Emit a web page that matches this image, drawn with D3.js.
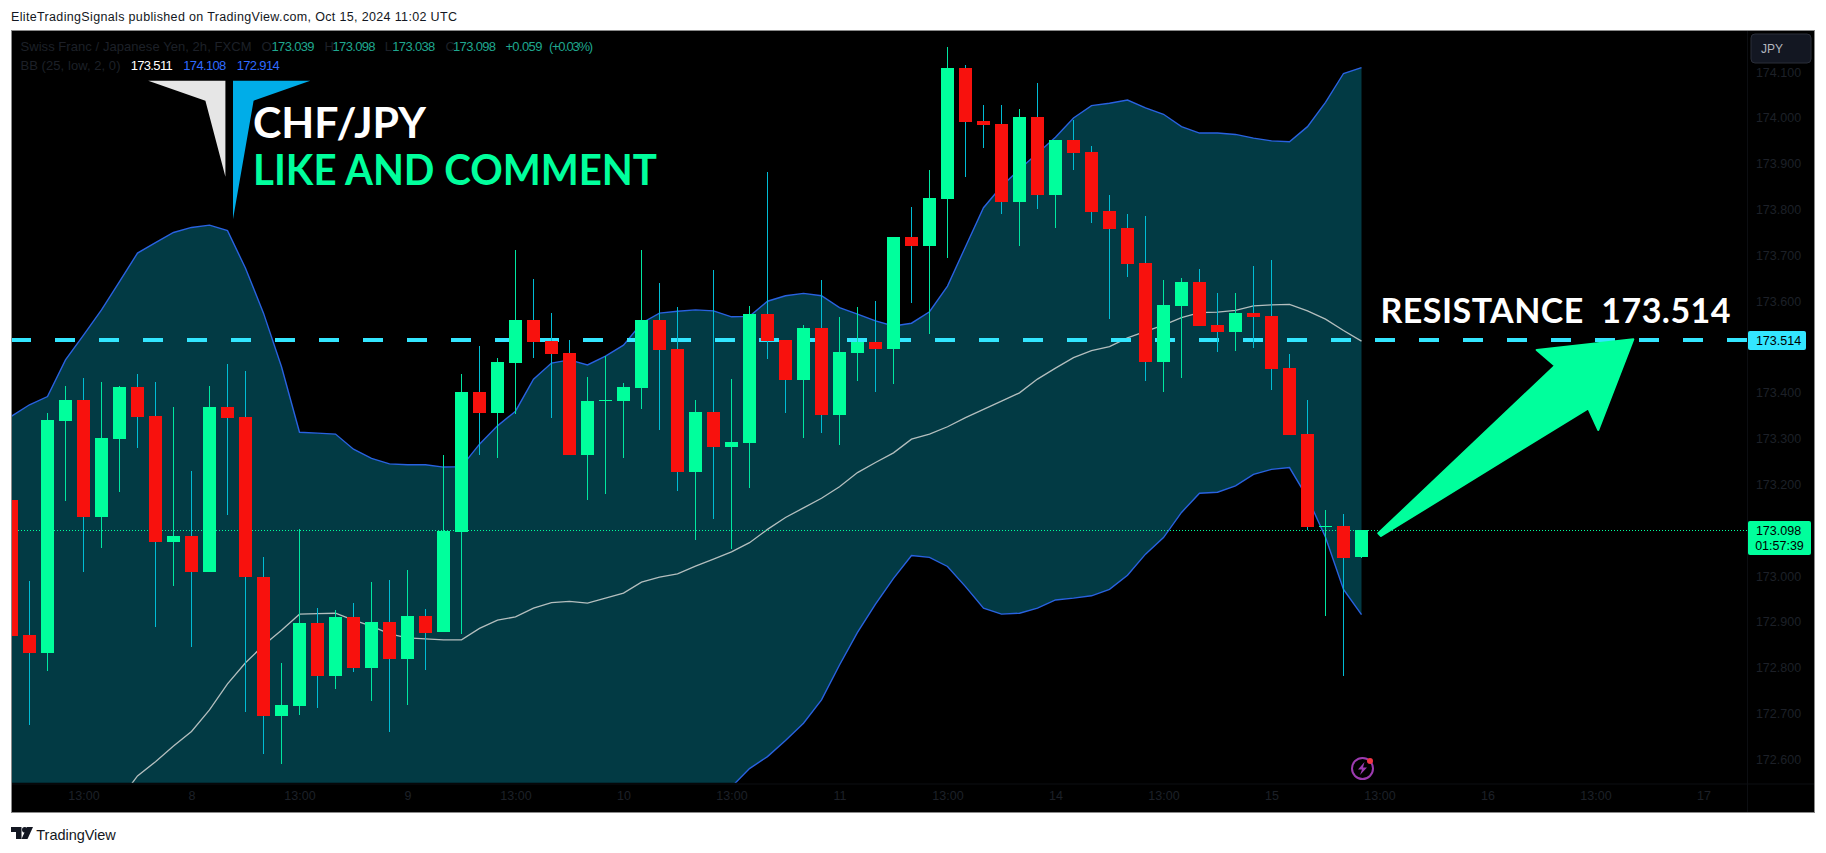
<!DOCTYPE html>
<html>
<head>
<meta charset="utf-8">
<title>CHF/JPY</title>
<script src="https://cdnjs.cloudflare.com/ajax/libs/d3/7.8.5/d3.min.js"></script>
<style>
html,body{margin:0;padding:0;background:#fff;overflow:hidden}
svg{display:block}
text{font-family:"Liberation Sans",Arial,sans-serif}
</style>
</head>
<body>
<svg id="chart" width="1826" height="853"></svg>
<script>
// ---- data ----
const opens = [173.164,172.870,172.831,173.337,173.382,173.128,173.297,173.411,173.347,173.073,173.086,173.006,173.367,173.345,172.996,172.693,172.715,172.896,172.779,172.909,172.798,172.898,172.818,172.911,172.875,173.094,173.400,173.354,173.463,173.557,173.511,173.485,173.262,173.380,173.380,173.409,173.557,173.494,173.225,173.356,173.280,173.289,173.570,173.513,173.426,173.540,173.350,173.485,173.509,173.494,173.738,173.718,173.821,174.107,173.991,173.985,173.815,174.000,173.830,173.950,173.924,173.795,173.758,173.681,173.465,173.588,173.640,173.546,173.531,173.572,173.566,173.452,173.308,173.105,173.107,173.039];
const highs = [173.226,172.987,173.353,173.413,173.430,173.422,173.413,173.439,173.422,173.367,173.227,173.413,173.461,173.446,173.040,172.808,173.101,172.928,172.924,172.939,172.985,172.990,173.011,172.926,173.262,173.439,173.500,173.474,173.710,173.646,173.572,173.513,173.433,173.478,173.420,173.710,173.638,173.585,173.382,173.666,173.428,173.588,173.880,173.513,173.546,173.644,173.564,173.585,173.599,173.738,173.804,173.884,174.153,174.114,174.026,174.026,174.017,174.074,173.950,173.993,173.937,173.830,173.788,173.784,173.644,173.649,173.668,173.616,173.616,173.675,173.688,173.483,173.382,173.142,173.134,173.098];
const lows = [172.835,172.672,172.792,173.163,173.008,173.060,173.182,173.278,172.888,172.977,172.844,173.006,173.132,172.702,172.610,172.589,172.695,172.711,172.752,172.789,172.725,172.658,172.717,172.793,172.875,172.872,173.262,173.256,173.352,173.473,173.344,173.262,173.165,173.177,173.256,173.363,173.317,173.184,173.077,173.123,173.057,173.190,173.472,173.354,173.299,173.310,173.284,173.424,173.400,173.417,173.594,173.526,173.692,173.869,173.932,173.788,173.718,173.799,173.758,173.884,173.769,173.559,173.651,173.424,173.400,173.430,173.544,173.487,173.489,173.496,173.404,173.306,173.099,172.912,172.781,173.038];
const closes = [172.868,172.831,173.339,173.382,173.128,173.300,173.411,173.346,173.073,173.086,173.006,173.367,173.344,172.995,172.693,172.717,172.896,172.779,172.909,172.798,172.898,172.818,172.911,172.874,173.097,173.400,173.354,173.465,173.557,173.510,173.483,173.262,173.380,173.383,173.411,173.557,173.492,173.225,173.356,173.280,173.291,173.570,173.511,173.426,173.540,173.350,173.487,173.509,173.494,173.738,173.718,173.823,174.107,173.989,173.983,173.815,174.000,173.830,173.950,173.921,173.793,173.756,173.679,173.465,173.590,173.640,173.544,173.531,173.572,173.564,173.450,173.306,173.105,173.108,173.038,173.098];
const bbUpper = [173.347,173.372,173.390,173.470,173.524,173.579,173.641,173.703,173.726,173.748,173.759,173.764,173.752,173.670,173.572,173.455,173.312,173.310,173.308,173.275,173.255,173.243,173.241,173.241,173.236,173.237,173.286,173.326,173.358,173.428,173.463,173.470,173.459,173.478,173.502,173.550,173.572,173.576,173.579,173.577,173.564,173.565,173.598,173.610,173.615,173.610,173.584,173.570,173.555,173.544,173.550,173.575,173.631,173.717,173.802,173.849,173.886,173.921,173.956,173.998,174.025,174.030,174.037,174.020,174.006,173.979,173.965,173.965,173.962,173.954,173.948,173.946,173.979,174.032,174.095,174.108];
const bbBasis = [172.291,172.335,172.378,172.422,172.440,172.470,172.509,172.562,172.593,172.627,172.659,172.706,172.763,172.809,172.847,172.880,172.915,172.916,172.917,172.902,172.889,172.872,172.863,172.861,172.859,172.859,172.884,172.902,172.909,172.928,172.940,172.943,172.939,172.950,172.961,172.985,172.996,173.003,173.020,173.035,173.051,173.071,173.100,173.126,173.147,173.168,173.193,173.224,173.246,173.267,173.297,173.308,173.324,173.344,173.362,173.380,173.398,173.428,173.452,173.475,173.490,173.499,173.518,173.532,173.546,173.562,173.573,173.574,173.578,173.588,173.590,173.591,173.577,173.559,173.534,173.511];
const bbLower = [171.235,171.298,171.368,171.375,171.407,171.418,171.418,171.420,171.459,171.507,171.560,171.647,171.774,171.946,172.123,172.306,172.518,172.523,172.525,172.529,172.523,172.501,172.486,172.483,172.483,172.483,172.483,172.479,172.461,172.429,172.418,172.415,172.418,172.420,172.418,172.420,172.420,172.429,172.461,172.492,172.538,172.578,172.604,172.639,172.677,172.728,172.804,172.875,172.937,172.993,173.043,173.039,173.019,172.975,172.928,172.915,172.917,172.928,172.946,172.950,172.955,172.969,173.000,173.046,173.082,173.137,173.179,173.181,173.195,173.220,173.231,173.235,173.169,173.083,172.969,172.914];
const priceTicks = [174.1,174.0,173.9,173.8,173.7,173.6,173.4,173.3,173.2,173.0,172.9,172.8,172.7,172.6];
const timeTickBars = [4,10,16,22,28,34,40,46,52,58,64,70,76,82,88,94];
const timeTickLabels = ["13:00","8","13:00","9","13:00","10","13:00","11","13:00","14","13:00","15","13:00","16","13:00","17"];
const resistance = 173.514;
const lastPrice = 173.098;

// ---- scales ----
const x = d3.scaleLinear().domain([0,75]).range([11.5,1361.5]);
const y = d3.scaleLinear().domain([resistance,lastPrice]).range([339.7,530.3]);
const bars = d3.range(opens.length);

const COL = {up:"#00ff9c",down:"#f8110d",wickUp:"#00e6a0",wickDown:"#00bcd4",band:"#023a44",bandLine:"#2962e0",basis:"#b4bebe",res:"#33e6ff",dim:"#1d2028"};
const svg = d3.select("#chart");
svg.append("rect").attr("width",1826).attr("height",853).attr("fill","#fff");

// frame
svg.append("rect").attr("x",11.5).attr("y",30.5).attr("width",1803).attr("height",782)
  .attr("fill","#000").attr("stroke","#8a8a8a").attr("stroke-width",1);

const defs = svg.append("defs");
defs.append("clipPath").attr("id","pane").append("rect").attr("x",12).attr("y",31).attr("width",1735).attr("height",751.7);
const pane = svg.append("g").attr("clip-path","url(#pane)");

// separators
svg.append("line").attr("x1",1747.5).attr("x2",1747.5).attr("y1",31).attr("y2",812).attr("stroke","#0c0e12");
svg.append("line").attr("x1",12).attr("x2",1814).attr("y1",784).attr("y2",784).attr("stroke","#0c0e12");

// Bollinger band
pane.append("path").datum(bars)
  .attr("fill",COL.band)
  .attr("d",d3.area().x(i=>x(i)).y0(i=>y(bbLower[i])).y1(i=>y(bbUpper[i])));
const line = arr => d3.line().x(i=>x(i)).y(i=>y(arr[i]));
pane.append("path").datum(bars).attr("fill","none").attr("stroke",COL.basis).attr("stroke-width",1.3).attr("d",line(bbBasis));
pane.append("path").datum(bars).attr("fill","none").attr("stroke",COL.bandLine).attr("stroke-width",1.4).attr("d",line(bbUpper));
pane.append("path").datum(bars).attr("fill","none").attr("stroke",COL.bandLine).attr("stroke-width",1.4).attr("d",line(bbLower));

// price lines
pane.append("line").attr("x1",12).attr("x2",1747).attr("y1",y(lastPrice)).attr("y2",y(lastPrice))
  .attr("stroke",COL.up).attr("stroke-width",1).attr("stroke-dasharray","1,2").attr("shape-rendering","crispEdges");
pane.append("line").attr("x1",11).attr("x2",1747).attr("y1",y(resistance)).attr("y2",y(resistance))
  .attr("stroke",COL.res).attr("stroke-width",4).attr("stroke-dasharray","20,24").attr("shape-rendering","crispEdges");

// candles
const candle = pane.selectAll("g.c").data(bars).join("g").attr("class","c").attr("shape-rendering","crispEdges");
candle.append("line")
  .attr("x1",i=>x(i)).attr("x2",i=>x(i))
  .attr("y1",i=>y(highs[i])).attr("y2",i=>y(lows[i]))
  .attr("stroke",i=>closes[i]>=opens[i]?COL.wickUp:COL.wickDown).attr("stroke-width",1);
candle.append("rect")
  .attr("x",i=>x(i)-6.5).attr("width",13)
  .attr("y",i=>y(Math.max(opens[i],closes[i])))
  .attr("height",i=>Math.max(1.5,Math.abs(y(opens[i])-y(closes[i]))))
  .attr("fill",i=>closes[i]>=opens[i]?COL.up:COL.down);

// axes
const yAxis = d3.axisRight(y).tickValues(priceTicks).tickFormat(d3.format(".3f")).tickSize(0).tickPadding(0);
const yg = svg.append("g").attr("transform","translate(1778.5,0.8)").call(yAxis);
yg.select(".domain").remove();
yg.selectAll("text").attr("fill",COL.dim).attr("text-anchor","middle").style("font-size","12.5px").style("font-family","'Liberation Sans',Arial,sans-serif");
const xAxis = d3.axisBottom(x).tickValues(timeTickBars).tickFormat((d,i)=>timeTickLabels[i]).tickSize(0).tickPadding(0);
const xg = svg.append("g").attr("transform","translate(0,791)").call(xAxis);
xg.select(".domain").remove();
xg.selectAll("text").attr("fill",COL.dim).style("font-size","12.5px").style("font-family","'Liberation Sans',Arial,sans-serif");

// price labels
function labelBox(xx,yy,w,h,fill){svg.append("rect").attr("x",xx).attr("y",yy).attr("width",w).attr("height",h).attr("rx",2).attr("fill",fill);}
function txt(s,xx,yy,size,fill,opt={}){
  const t=svg.append("text").attr("x",xx).attr("y",yy).attr("fill",fill).style("font-size",size+"px").attr("dominant-baseline","central").text(s);
  if(opt.anchor)t.attr("text-anchor",opt.anchor);
  if(opt.len)t.attr("textLength",opt.len).attr("lengthAdjust",opt.adj||"spacing");
  if(opt.font)t.style("font-family",opt.font);
  if(opt.weight)t.style("font-weight",opt.weight);
  return t;
}
labelBox(1748,331,58,19,COL.res);
txt(d3.format(".3f")(resistance),1778.5,341,12.5,"#000",{anchor:"middle"});
labelBox(1748,521,63,34,COL.up);
txt(d3.format(".3f")(lastPrice),1778.5,530.5,12.5,"#000",{anchor:"middle"});
txt("01:57:39",1779.5,545.5,12.5,"#000",{anchor:"middle"});
svg.append("rect").attr("x",1751).attr("y",34).attr("width",60).attr("height",29).attr("rx",4).attr("fill","#131722").attr("stroke","#2a2e39");
txt("JPY",1761,48.5,12,"#b2b5be");

// legend
txt("Swiss Franc / Japanese Yen, 2h, FXCM",20.5,46.5,13,COL.dim,{len:231});
const legendTeal="#1fa78f";
[["O",261.5,COL.dim],["H",324.5,COL.dim],["L",384.8,COL.dim],["C",445.5,COL.dim]].forEach(d=>txt(d[0],d[1],46.5,13,d[2]));
[["173.039",271.5],["173.098",332.5],["173.038",392.3],["173.098",453]].forEach(d=>txt(d[0],d[1],46.5,13,legendTeal,{len:43}));
txt("+0.059",505.4,46.5,13,legendTeal,{len:37});
txt("(+0.03%)",549,46.5,13,legendTeal,{len:44});
txt("BB (25, low, 2, 0)",20.5,65.5,13,COL.dim,{len:100});
txt("173.511",130.7,65.5,13,"#ffffff",{len:42});
txt("174.108",183.3,65.5,13,"#2f6bff",{len:43});
txt("172.914",236.7,65.5,13,"#2f6bff",{len:43});

// logo + annotation text
svg.append("polygon").attr("points","148.2,80.7 225.4,80.7 225.4,176.7 205.4,100.7").attr("fill","#e6e6e6");
svg.append("polygon").attr("points","233,80.7 310.3,80.7 253.6,100.7 233,219.3").attr("fill","#00ade8");
const headF="Lato,'Open Sans',sans-serif";
svg.append("text").attr("x",253).attr("y",137.5).attr("fill","#fff").style("font-family",headF).style("font-size","42px").style("font-weight",700)
  .attr("textLength",173).attr("lengthAdjust","spacingAndGlyphs").text("CHF/JPY");
svg.append("text").attr("x",253).attr("y",185).attr("fill",COL.up).style("font-family",headF).style("font-size","42px").style("font-weight",700)
  .attr("textLength",404).attr("lengthAdjust","spacingAndGlyphs").text("LIKE AND COMMENT");
svg.append("text").attr("x",1380.5).attr("y",322.5).attr("fill","#fff").style("font-family",headF).style("font-size","34px").style("font-weight",700)
  .attr("textLength",350).attr("lengthAdjust","spacing").style("white-space","pre").text("RESISTANCE  173.514");

// big arrow annotation
svg.append("polygon").attr("points","1378.3,533.3 1555,365.7 1536.7,350 1633.3,339.3 1598.3,430 1588.3,408.3 1381,536")
  .attr("fill",COL.up).attr("stroke",COL.up).attr("stroke-width",2).attr("stroke-linejoin","round");

// alert icon
svg.append("circle").attr("cx",1362.5).attr("cy",768.5).attr("r",10.5).attr("fill","none").attr("stroke","#9c3bb0").attr("stroke-width",2);
svg.append("polygon").attr("points","1364.5,762 1358,769.5 1362,769.5 1360,775 1367,767.5 1363,767.5").attr("fill","#9c3bb0");
svg.append("circle").attr("cx",1370).attr("cy",761).attr("r",3).attr("fill","#f23645");

// header + footer
txt("EliteTradingSignals published on TradingView.com, Oct 15, 2024 11:02 UTC",11,16.7,12.5,"#131722",{len:446});
const tv=svg.append("g").attr("fill","#131722");
tv.append("path").attr("d","M11 827 H21.5 V839 H16 V832 H11 Z");
tv.append("circle").attr("cx",24.8).attr("cy",829.8).attr("r",2.8);
tv.append("path").attr("d","M27 827 H33 L27.5 839 H21.5 Z");
txt("TradingView",36.3,834.5,14.5,"#131722",{len:79.5});
</script>
</body>
</html>
